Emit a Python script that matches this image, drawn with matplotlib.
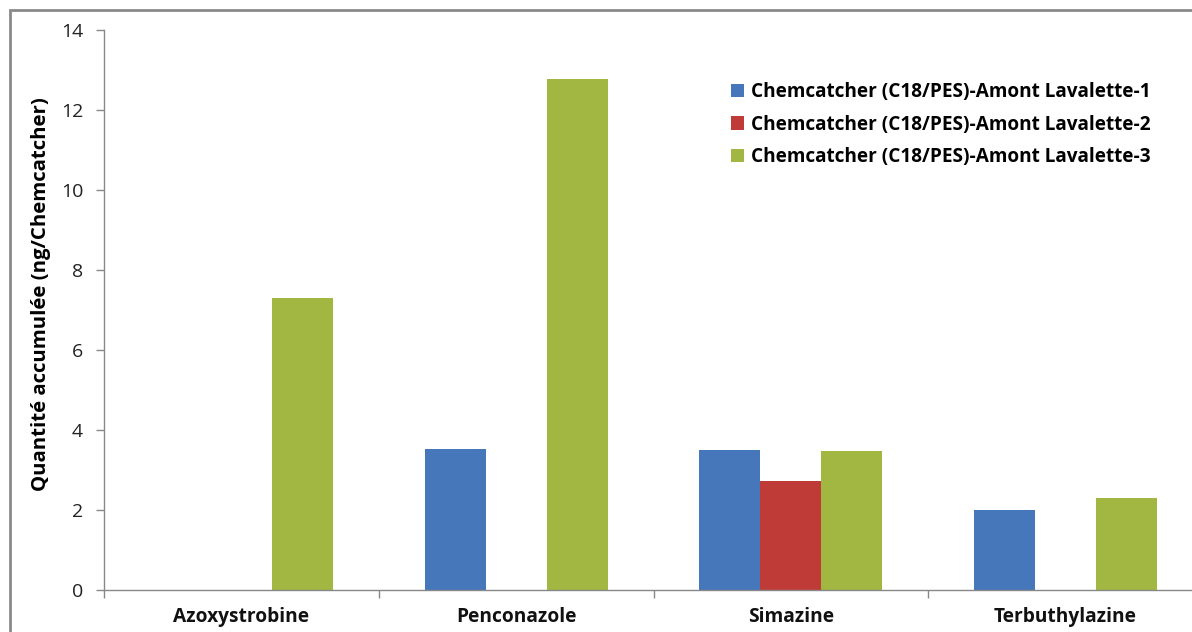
import matplotlib
matplotlib.use("Agg")
import matplotlib.pyplot as plt
import matplotlib.patches as mpatches
import numpy as np

categories = ["Azoxystrobine", "Penconazole", "Simazine", "Terbuthylazine"]
series_names = [
    "Chemcatcher (C18/PES)-Amont Lavalette-1",
    "Chemcatcher (C18/PES)-Amont Lavalette-2",
    "Chemcatcher (C18/PES)-Amont Lavalette-3",
]
lavalette_1 = [0.0, 3.53, 3.50, 2.00]
lavalette_2 = [0.0, 0.0, 2.72, 0.0]
lavalette_3 = [7.31, 12.78, 3.48, 2.29]
colors = ["#4677BA", "#BE3B37", "#A1B742"]
y_ticks = [0, 2, 4, 6, 8, 10, 12, 14]

plt.rcParams['font.family'] = ['Open Sans', 'DejaVu Sans']

fig = plt.figure(figsize=(11.92, 6.32), dpi=100)
W, H = 1192, 632
ax = fig.add_axes([104 / W, (H - 590) / H, 1099 / W, 560 / H])

x = np.arange(len(categories))
width = 0.222
for i, (vals, name, c) in enumerate(zip([lavalette_1, lavalette_2, lavalette_3], series_names, colors)):
    ax.bar(x + (i - 1) * width, vals, width, color=c, label=name, edgecolor='none')

ax.set_xlim(-0.5, len(categories) - 0.5)
ax.set_ylim(0, 14)
ax.set_yticks(y_ticks)
ax.set_yticklabels([str(t) for t in y_ticks], fontsize=14, color='#222222')
ax.set_xticks(x)
ax.set_xticklabels(categories, fontsize=13.8, fontweight='bold', color='#111111')
ax.set_xticks(np.arange(len(categories) + 1) - 0.5, minor=True)
ax.tick_params(axis='x', which='major', length=0, pad=12)
ax.tick_params(axis='x', which='minor', length=6, color='#888888', width=1)
ax.tick_params(axis='y', length=6, color='#888888', width=1, pad=9)

for s in ['top', 'right']:
    ax.spines[s].set_visible(False)
for s in ['left', 'bottom']:
    ax.spines[s].set_color('#888888')
    ax.spines[s].set_linewidth(1)

ax.set_ylabel("Quantité accumulée (ng/Chemcatcher)", fontsize=14.7, fontweight='bold')
ax.yaxis.set_label_coords(-0.048, 0.528)

leg = fig.legend(loc='upper left', bbox_to_anchor=(714 / W, 1 - 65 / H), frameon=False,
                 prop={'weight': 'bold', 'size': 13.7},
                 handlelength=0.7, handleheight=0.7, handletextpad=0.35, labelspacing=0.66)

border = mpatches.Rectangle((10 / W, -0.1), 1.2, 1 - 10 / H + 0.1, transform=fig.transFigure,
                            fill=False, edgecolor='#8a8a8a', linewidth=2, clip_on=False)
fig.patches.append(border)

fig.savefig("out.png", dpi=100)
